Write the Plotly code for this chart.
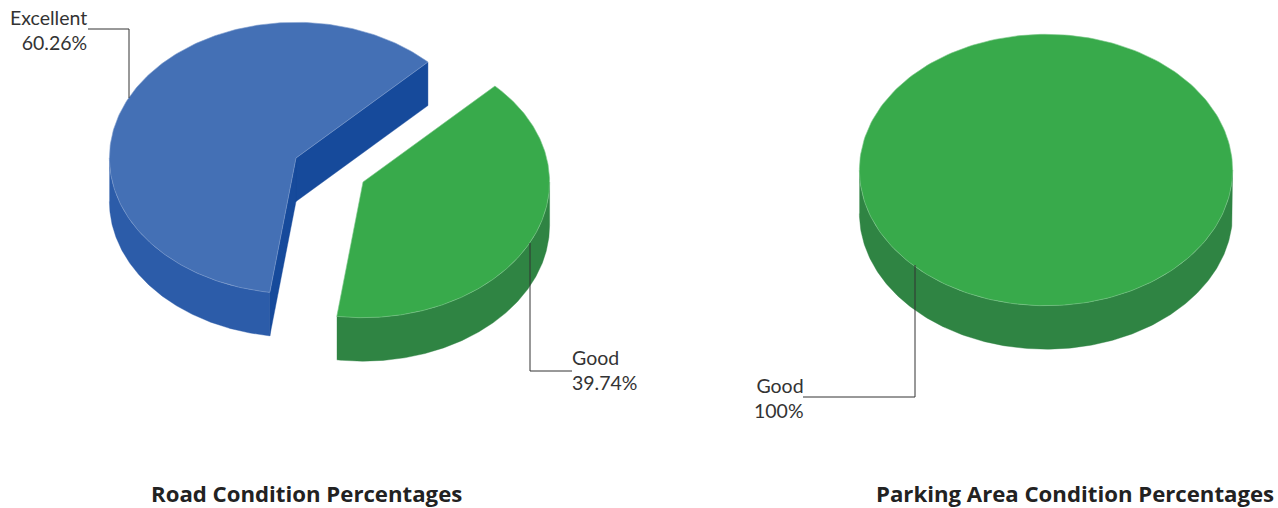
import numpy as np
import plotly.graph_objects as go

# ---- data ----
road_categories = ["Excellent", "Good"]
road_values = [60.26, 39.74]
parking_categories = ["Good"]
parking_values = [100]
chart_titles = ["Road Condition Percentages", "Parking Area Condition Percentages"]

# ---- styles / layout ----
W, H = 1278, 508
RX, RY, DEPTH = 186.6, 135.7, 43.5
START_ANGLE = 45
COLORS = {
    "Excellent": dict(top="#4470b5", wall="#2c5ca9", cut="#164a9b", edge="#7f9dcf"),
    "Good": dict(top="#38aa4b", wall="#2f8443", cut="#2f8443", edge="#7cc88a"),
}
FONT = "Lato, 'Open Sans', sans-serif"
TITLE_FONT = "'Open Sans', Lato, sans-serif"
TEXT = "#333333"

fig = go.Figure()


def poly(xs, ys, color, edge=None):
    fig.add_trace(go.Scatter(
        x=list(xs), y=list(ys), mode="lines", fill="toself", fillcolor=color,
        line=dict(color=edge or color, width=0.6 if edge else 0.4),
        hoverinfo="skip", showlegend=False))


def rim(cx, cy, a0, a1, n=240):
    t = np.radians(np.linspace(a0, a1, n))
    return cx + RX * np.cos(t), cy - RY * np.sin(t)


def draw_pie(centers, categories, values):
    angle = START_ANGLE
    for (cx, cy), cat, val in zip(centers, categories, values):
        sweep = val / sum(values) * 360
        a0, a1 = angle, angle + sweep
        angle = a1
        c = COLORS[cat]
        full = sweep >= 360
        # outer curved wall: only the front half of the rim (180..360 deg) is seen
        for lo, hi in [(180, 360), (540, 720)]:
            b0, b1 = max(a0, lo), min(a1, hi)
            if full:
                b0, b1 = 180, 360
            if b0 < b1:
                x, y = rim(cx, cy, b0, b1)
                poly(np.r_[x, x[::-1]], np.r_[y, y[::-1] + DEPTH], c["wall"])
            if full:
                break
        if not full:
            # straight cut walls that face the viewer
            for a in (a0, a1):
                x, y = rim(cx, cy, a, a, 1)
                dx, dy = x[0] - cx, y[0] - cy
                # visible only if shifting the cut downward leaves the slice
                mid = np.radians((a0 + a1) / 2)
                mx, my = RX * np.cos(mid), -RY * np.sin(mid)
                side_mid = dx * my - dy * mx
                side_down = dx * DEPTH
                if side_mid * side_down < 0:
                    poly([cx, x[0], x[0], cx, cx],
                         [cy, y[0], y[0] + DEPTH, cy + DEPTH, cy], c["cut"])
            x, y = rim(cx, cy, a0, a1)
            poly(np.r_[cx, x, cx], np.r_[cy, y, cy], c["top"], c["edge"])
        else:
            x, y = rim(cx, cy, 0, 360)
            poly(x, y, c["top"], c["edge"])


draw_pie([(296, 158), (363, 182)], road_categories, road_values)
draw_pie([(1046, 170)], parking_categories, parking_values)

# ---- leader lines ----
leaders = [
    ([88, 129, 129], [29, 29, 98]),
    ([530, 530, 572], [243, 371, 371]),
    ([915, 915, 803], [265, 397, 397]),
]
for lx, ly in leaders:
    fig.add_trace(go.Scatter(x=lx, y=ly, mode="lines", line=dict(color="#333333", width=1),
                             hoverinfo="skip", showlegend=False))

# ---- labels ----
labels = [
    (road_categories[0], road_values[0], 89, 30, "right"),
    (road_categories[1], road_values[1], 570, 370, "left"),
    (parking_categories[0], parking_values[0], 806, 397.5, "right"),
]
annotations = [
    dict(x=x, y=y, xref="x", yref="y", text=f"{cat}<br>{val}%", showarrow=False,
         xanchor=align, yanchor="middle", align=align,
         font=dict(family=FONT, size=19.5, color=TEXT))
    for cat, val, x, y, align in labels
]
for title, x in zip(chart_titles, (306.5, 1074.5)):
    annotations.append(dict(x=x, y=493, xref="x", yref="y", text=f"<b>{title}</b>",
                            showarrow=False, xanchor="center", yanchor="middle",
                            font=dict(family=TITLE_FONT, size=22.2, color="#222222")))

fig.update_layout(
    width=W, height=H, autosize=False,
    margin=dict(l=0, r=0, t=0, b=0),
    paper_bgcolor="white", plot_bgcolor="white",
    xaxis=dict(range=[0, W], visible=False, fixedrange=True),
    yaxis=dict(range=[H, 0], visible=False, fixedrange=True),
    annotations=annotations,
    showlegend=False,
)
fig.write_html("out.html", config=dict(displayModeBar=False),
               post_script="document.body.style.margin='0';document.body.style.overflow='hidden';window.dispatchEvent(new Event('resize'));")
